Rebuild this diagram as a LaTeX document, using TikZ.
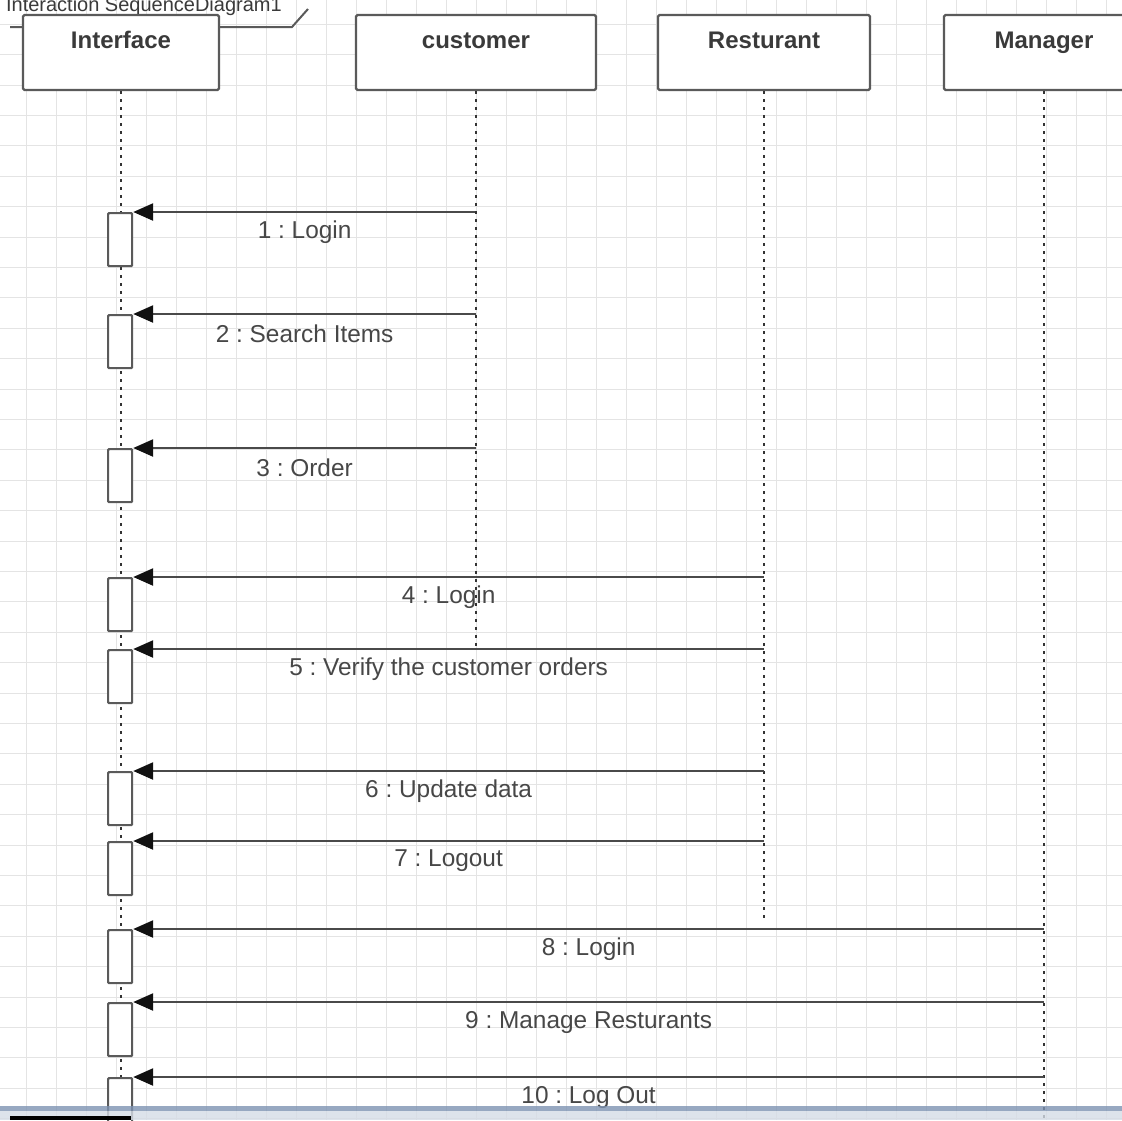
\documentclass[tikz,border=0pt]{standalone}
\usepackage{fontspec}
\setmainfont{Liberation Sans}
\usetikzlibrary{arrows.meta}
\frenchspacing
\definecolor{gridc}{HTML}{E4E4E4}
\definecolor{boxc}{HTML}{5A5A5A}
\definecolor{titlec}{HTML}{3A3A3A}
\definecolor{lblc}{HTML}{474747}
\definecolor{msgc}{HTML}{4A4A4A}
\definecolor{tipc}{HTML}{111111}
\definecolor{lifec}{HTML}{333333}
\definecolor{bandc}{HTML}{7D93B2}
\definecolor{bandlight}{HTML}{D5DCE6}
\tikzset{
  gridline/.style={draw=gridc, line width=0.9pt},
  head/.style={draw=boxc, line width=2.2pt, fill=white, rounded corners=1.5pt,
               minimum height=75pt, inner sep=0pt},
  title/.style={font=\bfseries\fontsize{24}{26}\selectfont, text=titlec,
                anchor=base, inner sep=0pt},
  lifeline/.style={draw=lifec, line width=2.2pt, dash pattern=on 3pt off 5pt},
  act/.style={draw=boxc, line width=2.2pt, fill=white, rounded corners=1pt,
              minimum width=24pt, minimum height=53pt, inner sep=0pt, anchor=north west},
  msg/.style={draw=msgc, line width=2.4pt,
              -{Triangle[length=20pt, width=17pt, color=tipc, fill=tipc]}},
  lbl/.style={font=\fontsize{24.4}{26}\selectfont, text=lblc, midway, yshift=-20pt},
  framec/.style={draw=boxc, line width=2pt},
}
\begin{document}
\begin{tikzpicture}[x=1pt, y=-1pt]
\useasboundingbox (0,0) rectangle (1122,1120);
\clip (0,0) rectangle (1122,1120);
\fill[white] (0,0) rectangle (1122,1120);

% background grid
\foreach \gx in {-3.3,26.7,...,1125} \draw[gridline] (\gx,0) -- (\gx,1120);
\foreach \gy in {24.3,54.7,...,1125} \draw[gridline] (0,\gy) -- (1122,\gy);

% frame tab of the sequence diagram
\node[font=\fontsize{20}{22}\selectfont, text=titlec, anchor=base east, inner sep=0pt] (frametitle)
  at (282,11) {Interaction SequenceDiagram1};
\draw[framec] (10,27) -- (292,27) -- (308,9);

% lifeline heads
\node[head, minimum width=196pt] (if) at (121,52.5) {};
\node[head, minimum width=240pt] (cu) at (476,52.5) {};
\node[head, minimum width=212pt] (re) at (764,52.5) {};
\node[head, minimum width=200pt] (ma) at (1044,52.5) {};
\node[title] (ift) at (if.center |- 0,48) {Interface};
\node[title] (cut) at (cu.center |- 0,48) {customer};
\node[title] (ret) at (re.center |- 0,48) {Resturant};
\node[title] (mat) at (ma.center |- 0,48) {Manager};

% lifelines
\coordinate (ifEnd) at (121,1120);
\coordinate (reEnd) at (764,920);
\coordinate (maEnd) at (1044,1120);
\draw[lifeline] (if.south) -- (ifEnd);
\draw[lifeline] (re.south) -- (reEnd);
\draw[lifeline] (ma.south) -- (maEnd);

% activation bars on the Interface lifeline
\node[act] (a1) at (107,212) {};
\node[act] (a2) at (107,314) {};
\node[act] (a3) at (107,448) {};
\node[act] (a4) at (107,577) {};
\node[act] (a5) at (107,649) {};
\node[act] (a6) at (107,771) {};
\node[act] (a7) at (107,841) {};
\node[act] (a8) at (107,929) {};
\node[act] (a9) at (107,1002) {};
\node[act] (a10) at (107,1077) {};

% messages
\draw[msg] (cu.south |- a1.north) -- (a1.north east) node[lbl] {1 : Login};
\draw[msg] (cu.south |- a2.north) -- (a2.north east) node[lbl] {2 : Search Items};
\draw[msg] (cu.south |- a3.north) -- (a3.north east) node[lbl] {3 : Order};
\draw[msg] (re.south |- a4.north) -- (a4.north east) node[lbl] {4 : Login};
\draw[msg] (re.south |- a5.north) -- (a5.north east) node[lbl] {5 : Verify the customer orders};
\draw[msg] (re.south |- a6.north) -- (a6.north east) node[lbl] {6 : Update data};
\draw[msg] (re.south |- a7.north) -- (a7.north east) node[lbl] {7 : Logout};
\draw[msg] (ma.south |- a8.north) -- (a8.north east) node[lbl] {8 : Login};
\draw[msg] (ma.south |- a9.north) -- (a9.north east) node[lbl] {9 : Manage Resturants};
\draw[msg] (ma.south |- a10.north) -- (a10.north east) node[lbl] {10 : Log Out};

% customer lifeline, ending at message 5
\draw[lifeline] (cu.south) -- (cu.south |- a5.north);

% window edge along the bottom
\fill[bandc, opacity=0.8] (0,1106) rectangle (1122,1111);
\fill[bandlight, opacity=0.8] (0,1111) rectangle (1122,1120);
\fill[black] (10,1116) rectangle (131,1120);
\end{tikzpicture}
\end{document}
